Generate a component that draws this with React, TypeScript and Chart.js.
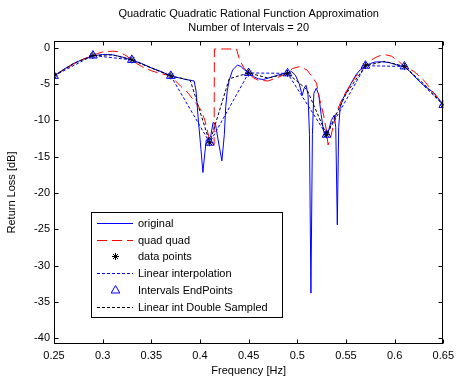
import React, { useEffect, useRef } from "react";
import { Chart, registerables } from "chart.js";

Chart.register(...registerables);

// ---------- data ----------
const xTickValues = [0.25, 0.3, 0.35, 0.4, 0.45, 0.5, 0.55, 0.6, 0.65];
const yTickValues = [-40, -35, -30, -25, -20, -15, -10, -5, 0];

const origFreq = [
  0.25, 0.26, 0.27, 0.28, 0.29, 0.3, 0.31, 0.32, 0.33, 0.34,
  0.35, 0.36, 0.37, 0.375, 0.38, 0.385, 0.39, 0.394, 0.396, 0.398,
  0.401, 0.403, 0.405, 0.4065, 0.409, 0.411, 0.4135, 0.416, 0.419, 0.4225,
  0.425, 0.4265, 0.428, 0.43, 0.4335, 0.4385, 0.442, 0.446, 0.45, 0.455,
  0.46, 0.465, 0.47, 0.475, 0.48, 0.485, 0.49, 0.494, 0.498, 0.502,
  0.505, 0.507, 0.509, 0.511, 0.5125, 0.514, 0.5155, 0.517, 0.5195, 0.522,
  0.5245, 0.527, 0.529, 0.531, 0.533, 0.535, 0.538, 0.5395, 0.5411, 0.5425,
  0.544, 0.547, 0.55, 0.555, 0.56, 0.565, 0.57, 0.575, 0.58, 0.5875,
  0.595, 0.6, 0.605, 0.61, 0.615, 0.62, 0.625, 0.63, 0.635, 0.64,
  0.645, 0.65,
];
const origDb = [
  -3.9, -3.0, -2.2, -1.6, -1.15, -0.95, -1.0, -1.3, -1.7, -2.2,
  -2.8, -3.3, -3.9, -4.1, -4.2, -4.4, -4.5, -4.6, -6.0, -9.5,
  -14.0, -17.2, -14.5, -12.7, -12.6, -12.2, -10.3, -10.6, -13.0, -15.6,
  -12.0, -8.1, -6.0, -4.5, -3.1, -2.4, -2.6, -3.1, -3.5, -4.0,
  -4.3, -4.4, -4.2, -4.0, -3.8, -3.6, -3.5, -3.3, -3.8, -5.0,
  -6.6, -5.6, -5.2, -6.5, -12.0, -33.8, -12.0, -6.3, -5.6, -6.5,
  -9.2, -11.5, -12.3, -12.0, -11.0, -10.0, -9.3, -11.0, -24.4, -11.0,
  -8.3, -7.0, -6.3, -5.0, -3.8, -3.0, -2.5, -2.2, -2.0, -1.95,
  -2.1, -2.3, -2.5, -2.6, -3.2, -3.9, -4.6, -5.2, -5.7, -6.2,
  -7.0, -7.9,
];

const quadFreq = [
  0.25, 0.26, 0.27, 0.28, 0.29, 0.295, 0.3, 0.31, 0.315, 0.32,
  0.325, 0.33, 0.335, 0.34, 0.35, 0.36, 0.37, 0.375, 0.38, 0.388,
  0.396, 0.401, 0.405, 0.41, 0.4145, 0.4148, 0.4375, 0.4405, 0.445, 0.45,
  0.455, 0.46, 0.47, 0.48, 0.49, 0.495, 0.5028, 0.51, 0.515, 0.5197,
  0.5231, 0.527, 0.53, 0.5316, 0.534, 0.5367, 0.54, 0.5469, 0.555, 0.56,
  0.565, 0.57, 0.575, 0.58, 0.585, 0.591, 0.597, 0.6, 0.605, 0.61,
  0.62, 0.63, 0.64, 0.65,
];
const quadDb = [
  -3.9, -3.1, -2.3, -1.6, -1.15, -0.8, -0.6, -0.5, -0.55, -0.8,
  -1.2, -1.7, -2.2, -2.6, -3.2, -3.6, -3.9, -4.6, -5.3, -6.3,
  -7.7, -8.6, -10.0, -12.8, -13.4, -0.2, -0.2, -1.6, -2.8, -3.5,
  -4.2, -4.5, -4.6, -4.1, -3.55, -2.9, -2.6, -3.1, -4.0, -4.9,
  -7.2, -9.3, -11.5, -13.4, -12.5, -10.9, -9.0, -6.8, -5.0, -4.0,
  -3.1, -2.5, -1.8, -1.4, -1.1, -1.0, -1.2, -1.5, -2.0, -2.6,
  -3.3, -4.5, -6.2, -7.9,
];

const dataFreq = [0.25, 0.29, 0.33, 0.37, 0.41, 0.45, 0.49, 0.53, 0.57, 0.61, 0.65];
const dataDb = [-3.9, -1.1, -1.7, -3.9, -13.1, -3.5, -3.55, -12.0, -2.5, -2.6, -7.9];

const dsFreq = [
  0.25, 0.27, 0.29, 0.31, 0.33, 0.35, 0.37, 0.39, 0.41, 0.43, 0.45,
  0.47, 0.49, 0.51, 0.53, 0.55, 0.57, 0.59, 0.61, 0.63, 0.65,
];
const dsDb = [
  -3.9, -2.2, -1.1, -1.0, -1.7, -2.8, -3.9, -4.5, -13.1, -4.3, -3.5,
  -4.2, -3.55, -5.8, -12.0, -6.4, -2.5, -1.9, -2.6, -5.0, -7.9,
];

const seriesLabels = [
  "original",
  "quad quad",
  "data points",
  "Linear interpolation",
  "Intervals EndPoints",
  "Linear int Double Sampled",
];

const FONT = "'Liberation Sans', Arial, Helvetica, sans-serif";

function pts(xs: number[], ys: number[]) {
  return xs.map((x, i) => ({ x, y: ys[i] }));
}

function drawMarker(ctx: CanvasRenderingContext2D, style: string, x: number, y: number, r: number, color: string) {
  ctx.save();
  ctx.strokeStyle = color;
  ctx.lineWidth = 1;
  ctx.setLineDash([]);
  ctx.beginPath();
  if (style === "star") {
    ctx.moveTo(x - r, y); ctx.lineTo(x + r, y);
    ctx.moveTo(x, y - r); ctx.lineTo(x, y + r);
    const d = r * 0.7071;
    ctx.moveTo(x - d, y - d); ctx.lineTo(x + d, y + d);
    ctx.moveTo(x - d, y + d); ctx.lineTo(x + d, y - d);
  } else if (style === "triangle") {
    const a = (2 * Math.PI) / 3;
    ctx.moveTo(x, y - r);
    ctx.lineTo(x + Math.sin(a) * r, y - Math.cos(a) * r);
    ctx.lineTo(x + Math.sin(2 * a) * r, y - Math.cos(2 * a) * r);
    ctx.closePath();
  }
  ctx.stroke();
  ctx.restore();
}

const framePlugin = {
  id: "matlabFrame",
  afterDatasetsDraw(chart: any) {
    const { ctx, chartArea: a, scales } = chart;
    const L = Math.round(a.left) + 0.5;
    const R = Math.round(a.right) - 0.5;
    const T = Math.round(a.top) + 0.5;
    const B = Math.round(a.bottom) - 0.5;
    ctx.save();
    ctx.strokeStyle = "#000";
    ctx.lineWidth = 1;
    ctx.setLineDash([]);
    ctx.strokeRect(L, T, R - L, B - T);
    const tl = 4;
    ctx.beginPath();
    for (const v of xTickValues) {
      const px = Math.round(scales.x.getPixelForValue(v)) + 0.5;
      ctx.moveTo(px, B); ctx.lineTo(px, B - tl);
      ctx.moveTo(px, T); ctx.lineTo(px, T + tl);
    }
    for (const v of yTickValues) {
      const py = Math.round(scales.y.getPixelForValue(v)) + 0.5;
      ctx.moveTo(L, py); ctx.lineTo(L + tl, py);
      ctx.moveTo(R, py); ctx.lineTo(R - tl, py);
    }
    ctx.stroke();

    // title
    ctx.fillStyle = "#000";
    ctx.font = `11px ${FONT}`;
    ctx.textAlign = "center";
    ctx.textBaseline = "middle";
    const cx = (a.left + a.right) / 2;
    ctx.fillText("Quadratic Quadratic Rational Function Approximation", cx, 14);
    ctx.fillText("Number of Intervals = 20", cx, 28);

    // legend
    const bx = 91, by = 212, bw = 191, bh = 105;
    ctx.fillStyle = "#fff";
    ctx.fillRect(bx, by, bw, bh);
    ctx.strokeStyle = "#000";
    ctx.strokeRect(bx + 0.5, by + 0.5, bw, bh);
    const ds = chart.data.datasets;
    for (let i = 0; i < ds.length; i++) {
      const d = ds[i];
      const y = Math.round(222.7 + i * 16.8) + 0.5;
      if (d.showLine !== false) {
        ctx.save();
        ctx.strokeStyle = d.borderColor;
        ctx.lineWidth = 1;
        ctx.setLineDash(d.borderDash || []);
        ctx.beginPath();
        ctx.moveTo(97, y);
        ctx.lineTo(133, y);
        ctx.stroke();
        ctx.restore();
      }
      if (d.pointRadius > 0) {
        drawMarker(ctx, d.pointStyle, 115.5, y, d.pointRadius, d.borderColor);
      }
      ctx.fillStyle = "#000";
      ctx.textAlign = "left";
      ctx.textBaseline = "middle";
      ctx.fillText(d.label, 138, y);
    }
    ctx.restore();
  },
};

export default function App() {
  const ref = useRef<HTMLCanvasElement>(null);
  useEffect(() => {
    document.body.style.margin = "0";
    const canvas = ref.current!;
    const tickFont = { family: FONT, size: 11 };
    const chart = new Chart(canvas, {
      type: "line",
      data: {
        datasets: [
          {
            label: seriesLabels[0],
            data: pts(origFreq, origDb),
            borderColor: "#0000ff",
            borderWidth: 1,
            pointRadius: 0,
            order: 6,
          },
          {
            label: seriesLabels[1],
            data: pts(quadFreq, quadDb),
            borderColor: "#ff0000",
            borderWidth: 1,
            borderDash: [10, 5],
            pointRadius: 0,
            order: 5,
          },
          {
            label: seriesLabels[2],
            data: pts(dataFreq, dataDb),
            borderColor: "#000000",
            showLine: false,
            pointStyle: "star",
            pointRadius: 3.5,
            pointBorderWidth: 1,
            pointBorderColor: "#000000",
            order: 4,
          },
          {
            label: seriesLabels[3],
            data: pts(dataFreq, dataDb),
            borderColor: "#0000ff",
            borderWidth: 1,
            borderDash: [3, 2],
            pointRadius: 0,
            order: 3,
          },
          {
            label: seriesLabels[4],
            data: pts(dataFreq, dataDb),
            borderColor: "#0000ff",
            showLine: false,
            pointStyle: "triangle",
            pointRadius: 5,
            pointBorderWidth: 1,
            pointBorderColor: "#0000ff",
            pointBackgroundColor: "rgba(0,0,0,0)",
            order: 2,
          },
          {
            label: seriesLabels[5],
            data: pts(dsFreq, dsDb),
            borderColor: "#000000",
            borderWidth: 1,
            borderDash: [3, 2],
            pointRadius: 0,
            order: 1,
          },
        ] as any,
      },
      options: {
        animation: false,
        responsive: false,
        devicePixelRatio: 1,
        events: [],
        layout: { padding: { left: 0, right: 11, top: 41, bottom: 0 } },
        plugins: {
          legend: { display: false },
          title: { display: false },
          tooltip: { enabled: false },
        },
        scales: {
          x: {
            type: "linear",
            min: 0.25,
            max: 0.65,
            afterBuildTicks: (s: any) => {
              s.ticks = xTickValues.map((v) => ({ value: v }));
            },
            afterFit: (s: any) => {
              s.height = 35;
            },
            grid: { display: false, drawTicks: false },
            border: { display: false },
            ticks: {
              color: "#000",
              font: tickFont,
              padding: 5,
              maxRotation: 0,
              autoSkip: false,
              callback: (v: any) => String(Number(Number(v).toFixed(2))),
            },
            title: {
              display: true,
              text: "Frequency [Hz]",
              color: "#000",
              font: tickFont,
              padding: { top: 0, bottom: 1 },
            },
          },
          y: {
            type: "linear",
            min: -40.8,
            max: 0.9,
            afterBuildTicks: (s: any) => {
              s.ticks = yTickValues.map((v) => ({ value: v }));
            },
            afterFit: (s: any) => {
              s.width = 54;
            },
            grid: { display: false, drawTicks: false },
            border: { display: false },
            ticks: {
              color: "#000",
              font: tickFont,
              padding: 4,
              autoSkip: false,
              callback: (v: any) => String(v),
            },
            title: {
              display: true,
              text: "Return Loss [dB]",
              color: "#000",
              font: tickFont,
              padding: { top: 5, bottom: 0 },
            },
          },
        },
      } as any,
      plugins: [framePlugin],
    });
    return () => chart.destroy();
  }, []);
  return <canvas ref={ref} width={459} height={379} style={{ display: "block" }} />;
}
